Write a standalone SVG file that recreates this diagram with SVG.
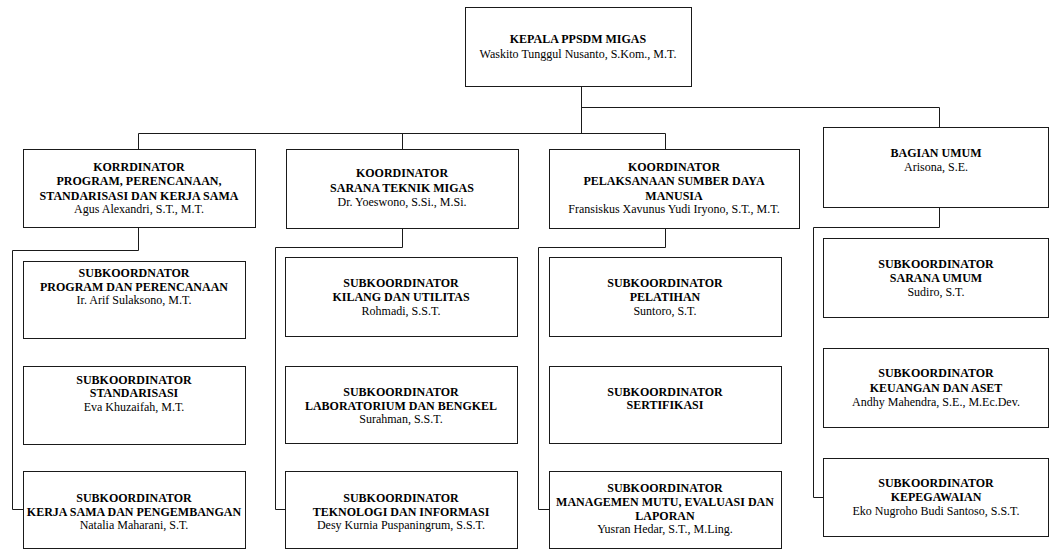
<svg xmlns="http://www.w3.org/2000/svg" width="1050" height="550" viewBox="0 0 1050 550" font-family="'Liberation Serif','Times New Roman',serif">
<style>
.box{fill:#fff;stroke:#1a1a1a;stroke-width:1}
.c{fill:none;stroke:#1a1a1a;stroke-width:1}
text{font-family:"Liberation Serif","Times New Roman",serif;font-size:12px;text-anchor:middle;fill:#000}
.b{font-weight:bold}
</style>
<rect width="1050" height="550" fill="#fff"/>
<g id="connectors">
<path class="c" d="M581.5,86 V133.5 M581.5,107.5 H939.5 V127 M138.5,149 V133.5 H665.5 V149 M402.5,133.5 V149"/>
<path class="c" d="M138.5,227 V250.5 H12.5 V509.5 H23"/>
<path class="c" d="M402.5,228 V247.5 H275.5 V509.5 H285"/>
<path class="c" d="M665.5,228 V247.5 H538.5 V509.5 H549"/>
<path class="c" d="M939.5,207 V227.5 H813.5 V497.5 H823"/>
</g>
<g id="kepala"><rect class="box" x="465.5" y="7.5" width="226" height="79"/>
<text class="b" x="578" y="43">KEPALA PPSDM MIGAS</text><text x="578" y="58">Waskito Tunggul Nusanto, S.Kom., M.T.</text></g>
<g id="koord1"><rect class="box" x="23.5" y="149.5" width="232" height="78"/>
<text class="b" x="139" y="171">KORRDINATOR</text><text class="b" x="139" y="185">PROGRAM, PERENCANAAN,</text><text class="b" x="139" y="200">STANDARISASI DAN KERJA SAMA</text><text x="139" y="213">Agus Alexandri, S.T., M.T.</text></g>
<g id="koord2"><rect class="box" x="286.5" y="149.5" width="232" height="79"/>
<text class="b" x="402" y="177">KOORDINATOR</text><text class="b" x="402" y="192">SARANA TEKNIK MIGAS</text><text x="402" y="206">Dr. Yoeswono, S.Si., M.Si.</text></g>
<g id="koord3"><rect class="box" x="549.5" y="149.5" width="250" height="79"/>
<text class="b" x="674" y="171">KOORDINATOR</text><text class="b" x="674" y="185">PELAKSANAAN SUMBER DAYA</text><text class="b" x="674" y="200">MANUSIA</text><text x="674" y="213">Fransiskus Xavunus Yudi Iryono, S.T., M.T.</text></g>
<g id="bagian-umum"><rect class="box" x="823.5" y="127.5" width="225" height="80"/>
<text class="b" x="936" y="157">BAGIAN UMUM</text><text x="936" y="171">Arisona, S.E.</text></g>
<g id="sub1a"><rect class="box" x="23.5" y="261.5" width="222" height="77"/>
<text class="b" x="134" y="277">SUBKOORDNATOR</text><text class="b" x="134" y="291">PROGRAM DAN PERENCANAAN</text><text x="134" y="304">Ir. Arif Sulaksono, M.T.</text></g>
<g id="sub1b"><rect class="box" x="23.5" y="366.5" width="222" height="78"/>
<text class="b" x="134" y="384">SUBKOORDINATOR</text><text class="b" x="134" y="397">STANDARISASI</text><text x="134" y="411">Eva Khuzaifah, M.T.</text></g>
<g id="sub1c"><rect class="box" x="23.5" y="471.5" width="222" height="77"/>
<text class="b" x="134" y="502">SUBKOORDINATOR</text><text class="b" x="134" y="516">KERJA SAMA DAN PENGEMBANGAN</text><text x="134" y="529">Natalia Maharani, S.T.</text></g>
<g id="sub2a"><rect class="box" x="285.5" y="257.5" width="232" height="79"/>
<text class="b" x="401" y="287">SUBKOORDINATOR</text><text class="b" x="401" y="301">KILANG DAN UTILITAS</text><text x="401" y="315">Rohmadi, S.S.T.</text></g>
<g id="sub2b"><rect class="box" x="285.5" y="366.5" width="232" height="77"/>
<text class="b" x="401" y="396">SUBKOORDINATOR</text><text class="b" x="401" y="410">LABORATORIUM DAN BENGKEL</text><text x="401" y="423">Surahman, S.S.T.</text></g>
<g id="sub2c"><rect class="box" x="285.5" y="471.5" width="232" height="77"/>
<text class="b" x="401" y="502">SUBKOORDINATOR</text><text class="b" x="401" y="516">TEKNOLOGI DAN INFORMASI</text><text x="401" y="529">Desy Kurnia Puspaningrum, S.S.T.</text></g>
<g id="sub3a"><rect class="box" x="549.5" y="257.5" width="232" height="79"/>
<text class="b" x="665" y="287">SUBKOORDINATOR</text><text class="b" x="665" y="301">PELATIHAN</text><text x="665" y="315">Suntoro, S.T.</text></g>
<g id="sub3b"><rect class="box" x="549.5" y="366.5" width="232" height="77"/>
<text class="b" x="665" y="396">SUBKOORDINATOR</text><text class="b" x="665" y="409">SERTIFIKASI</text></g>
<g id="sub3c"><rect class="box" x="549.5" y="471.5" width="232" height="77"/>
<text class="b" x="665" y="492">SUBKOORDINATOR</text><text class="b" x="665" y="506">MANAGEMEN MUTU, EVALUASI DAN</text><text class="b" x="665" y="520">LAPORAN</text><text x="665" y="533">Yusran Hedar, S.T., M.Ling.</text></g>
<g id="sub4a"><rect class="box" x="823.5" y="238.5" width="225" height="79"/>
<text class="b" x="936" y="268">SUBKOORDINATOR</text><text class="b" x="936" y="282">SARANA UMUM</text><text x="936" y="296">Sudiro, S.T.</text></g>
<g id="sub4b"><rect class="box" x="823.5" y="348.5" width="225" height="79"/>
<text class="b" x="936" y="377">SUBKOORDINATOR</text><text class="b" x="936" y="392">KEUANGAN DAN ASET</text><text x="936" y="406">Andhy Mahendra, S.E., M.Ec.Dev.</text></g>
<g id="sub4c"><rect class="box" x="823.5" y="458.5" width="225" height="78"/>
<text class="b" x="936" y="487">SUBKOORDINATOR</text><text class="b" x="936" y="501">KEPEGAWAIAN</text><text x="936" y="515">Eko Nugroho Budi Santoso, S.S.T.</text></g>
</svg>
